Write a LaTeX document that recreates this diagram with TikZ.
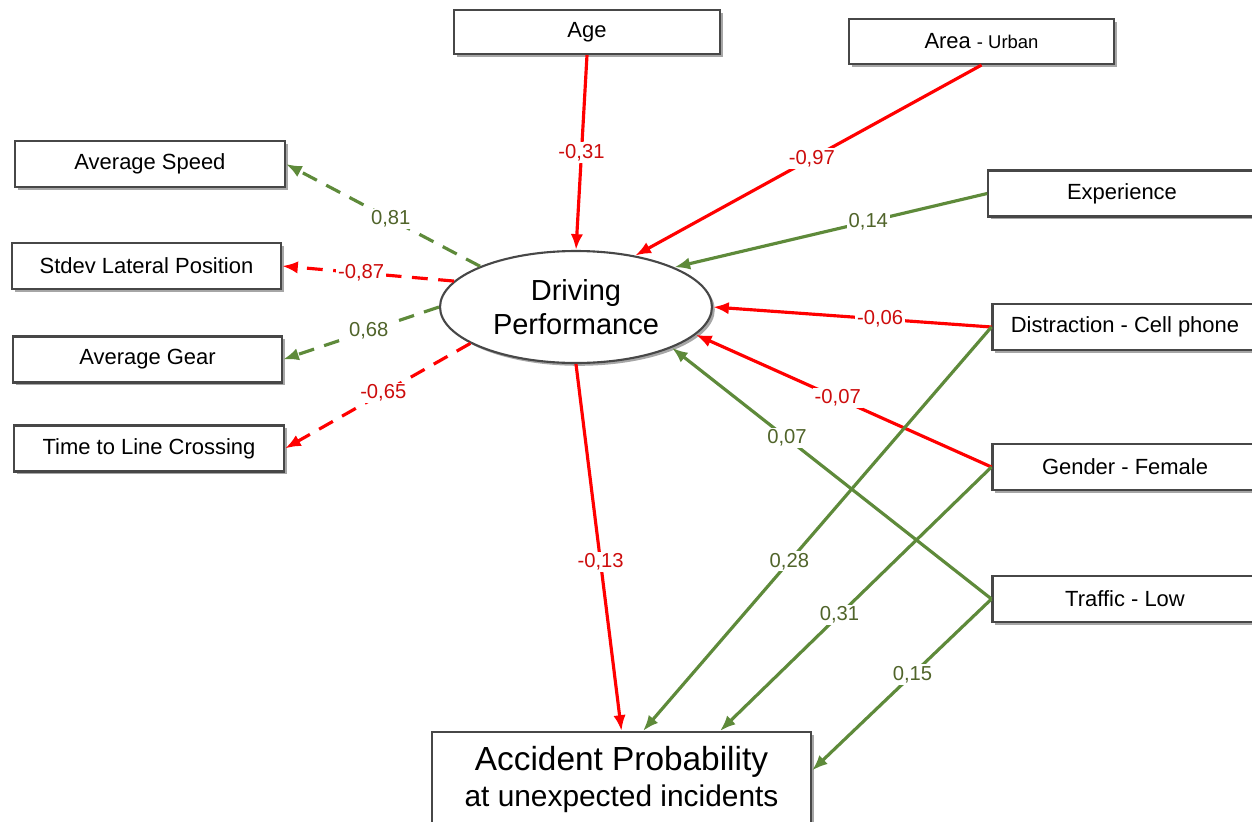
\documentclass[tikz,border=0pt]{standalone}
\usepackage{fontspec}
\setmainfont{Liberation Sans}
\usetikzlibrary{arrows.meta,shapes.geometric,shadows}

\definecolor{negred}{RGB}{255,0,0}
\definecolor{posgreen}{RGB}{94,138,58}
\definecolor{labred}{RGB}{205,12,12}
\definecolor{labgreen}{RGB}{80,100,42}

\begin{document}
\begin{tikzpicture}[x=0.02cm, y=-0.02cm,
    varbox/.style={draw=black!72, line width=1.2pt, fill=white,
      minimum width=5.4cm, minimum height=0.92cm, inner sep=2pt,
      font=\fontsize{12.5}{15}\selectfont,
      drop shadow={shadow xshift=1.6pt, shadow yshift=-1.6pt, fill=black, opacity=0.35}},
    latent/.style={ellipse, draw=black!72, line width=1.2pt, fill=white,
      minimum width=5.44cm, minimum height=2.24cm, inner sep=0pt, align=center,
      font=\fontsize{16.5}{19}\selectfont,
      drop shadow={shadow xshift=1.6pt, shadow yshift=-1.6pt, fill=black, opacity=0.35}},
    negpath/.style={draw=negred, line width=1.8pt, -{Latex[length=9pt,width=7pt]}},
    pospath/.style={draw=posgreen, line width=1.8pt, -{Latex[length=9pt,width=7pt]}},
    dashpath/.style={dash pattern=on 9pt off 6pt},
    coefneg/.style={fill=white, text=labred, inner sep=1pt, font=\fontsize{11.5}{13}\selectfont},
    coefpos/.style={fill=white, text=labgreen, inner sep=1pt, font=\fontsize{11.5}{13}\selectfont}]
  \useasboundingbox (0,0) rectangle (1252,822);

  % latent variable
  \node [latent] (perf) at (576,307) {Driving\\Performance};

  % inputs
  \node [varbox, minimum width=5.32cm, minimum height=0.88cm] (age)  at (587,32)    {Age};
  \node [varbox, minimum width=5.3cm, minimum height=0.9cm]   (area) at (981.5,41.5) {Area {\fontsize{10.5}{12}\selectfont - Urban}};
  \node [varbox, minimum width=5.35cm] (exp)     at (1122,193.5) {Experience};
  \node [varbox, minimum width=5.3cm]  (distr)   at (1125,327)   {Distraction - Cell phone};
  \node [varbox, minimum width=5.3cm]  (gender)  at (1125,467)   {Gender - Female};
  \node [varbox, minimum width=5.3cm]  (traffic) at (1125,599)   {Traffic - Low};

  % indicators
  \node [varbox] (speed)   at (150,164)     {Average  Speed};
  \node [varbox, minimum width=5.38cm] (stdev) at (146.5,266) {Stdev Lateral Position};
  \node [varbox, minimum width=5.38cm] (gear)  at (147.5,359.5) {Average  Gear};
  \node [varbox] (tlc)     at (149,448.5)   {Time to Line Crossing};

  % outcome
  \node [varbox, anchor=north, minimum width=7.58cm, minimum height=1.9cm, align=center,
         font=\fontsize{19}{23}\selectfont] (acc) at (621.5,731)
        {Accident Probability\\[-2pt]{\fontsize{17}{20}\selectfont at unexpected  incidents}};

  % paths into the latent variable
  \draw [negpath] (age.south)   -- node [coefneg, pos=0.5]  {-0,31} (perf.north);
  \draw [negpath] (area.south)  -- node [coefneg, pos=0.49] {-0,97} (perf.41.6);
  \draw [pospath] (exp.west)    -- node [coefpos, pos=0.38] {0,14}  (perf.22.4);
  \draw [negpath] (distr.west)  -- node [coefneg, pos=0.4]  {-0,06} (perf.east);
  \draw [negpath] (gender.west) -- node [coefneg, pos=0.52] {-0,07} (perf.-13.7);
  \draw [pospath] (traffic.west) -- node [coefpos, pos=0.64] {0,07} (perf.-23.6);

  % paths to the outcome
  \draw [negpath] (perf.south)  -- node [coefneg, pos=0.54] {-0,13} (acc.north);
  \draw [pospath] (distr.west)  -- node [coefpos, pos=0.58] {0,28} ([xshift=0.43cm]acc.north);
  \draw [pospath] (gender.west) -- node [coefpos, pos=0.56] {0,31} ([xshift=1.97cm]acc.north);
  \draw [pospath] (traffic.west) -- node [coefpos, pos=0.44] {0,15} ([yshift=0.18cm]acc.east);

  % loadings
  \draw [pospath, dashpath] (perf.157) -- node [coefpos, pos=0.46] {0,81}  (speed.east);
  \draw [negpath, dashpath] (perf.168) -- node [coefneg, pos=0.54] {-0,87} (stdev.east);
  \draw [pospath, dashpath] (perf.west) -- node [coefpos, pos=0.45] {0,68} (gear.east);
  \draw [negpath, dashpath] (perf.199) -- node [coefneg, pos=0.47] {-0,65} (tlc.east);
\end{tikzpicture}
\end{document}
